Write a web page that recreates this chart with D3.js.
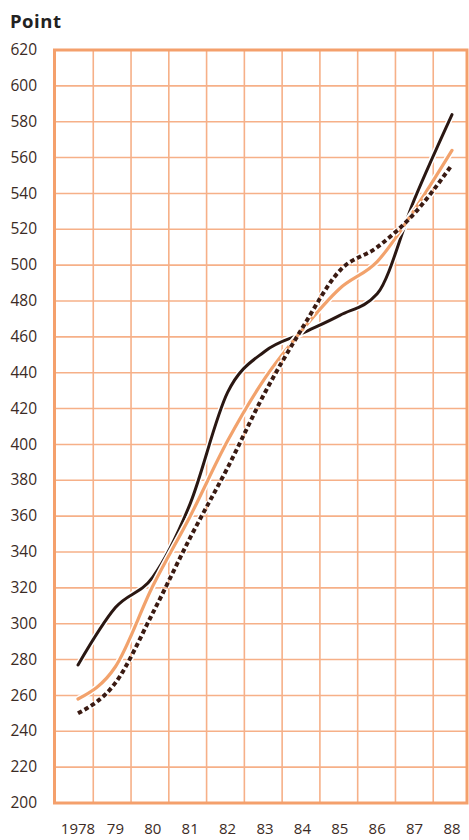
<!DOCTYPE html>
<html>
<head>
<meta charset="utf-8">
<script src="https://cdn.jsdelivr.net/npm/d3@7"></script>
<style>
  html, body { margin: 0; padding: 0; background: #ffffff; }
  svg { display: block; }
  text { font-family: "Open Sans", "DejaVu Sans", sans-serif; }
</style>
</head>
<body>
<div id="chart"></div>
<script>
// ---- data ----
const years = [1978, 1979, 1980, 1981, 1982, 1983, 1984, 1985, 1986, 1987, 1988];
const yearLabels = ["1978", "79", "80", "81", "82", "83", "84", "85", "86", "87", "88"];
const seriesDark = [277, 309, 326, 367, 429, 452, 462, 472, 484, 537, 584];
const seriesOrange = [258, 276, 321, 360, 402, 437, 464, 487, 502, 531, 564];
const seriesDashed = [250, 267, 306, 348, 387, 429, 465, 497, 510, 529, 556];
const yTicks = d3.range(200, 621, 20);
const gridColumns = d3.range(0, 12);

// ---- layout ----
const W = 469, H = 840;
const plot = { left: 54.5, right: 467, top: 50, bottom: 803 };

const svg = d3.select("#chart").append("svg")
  .attr("width", W).attr("height", H);

const x = d3.scaleLinear().domain([1978, 1988]).range([78, 452]);
const y = d3.scaleLinear().domain([200, 620]).range([plot.bottom, plot.top]);
const gx = d3.scaleLinear().domain([0, 11]).range([plot.left + 1, 471]);

const gridColor = "#f6b088";
const borderColor = "#f4a06c";

// grid
const grid = svg.append("g");
grid.selectAll("line.h").data(yTicks).enter().append("line")
  .attr("x1", plot.left).attr("x2", plot.right)
  .attr("y1", d => y(d)).attr("y2", d => y(d))
  .attr("stroke", gridColor).attr("stroke-width", 1.6);
grid.selectAll("line.v").data(gridColumns.slice(1, 11)).enter().append("line")
  .attr("x1", d => gx(d)).attr("x2", d => gx(d))
  .attr("y1", plot.top).attr("y2", plot.bottom)
  .attr("stroke", gridColor).attr("stroke-width", 1.6);

// border
svg.append("rect")
  .attr("x", plot.left).attr("y", plot.top)
  .attr("width", plot.right - plot.left).attr("height", plot.bottom - plot.top)
  .attr("fill", "none").attr("stroke", borderColor).attr("stroke-width", 3);

// y axis labels
svg.append("g").selectAll("text").data(yTicks).enter().append("text")
  .attr("x", 37).attr("y", d => y(d) + 1)
  .attr("text-anchor", "end").attr("dominant-baseline", "middle")
  .attr("font-size", 15.5).attr("fill", "#3b2b25")
  .text(d => d);

// x axis labels
svg.append("g").selectAll("text").data(years).enter().append("text")
  .attr("x", d => x(d)).attr("y", 834)
  .attr("text-anchor", "middle")
  .attr("font-size", 15).attr("fill", "#3b2b25")
  .text((d, i) => yearLabels[i]);

// title
svg.append("text").attr("x", 10).attr("y", 28)
  .attr("font-size", 18.5).attr("font-weight", 700).attr("letter-spacing", 0.5)
  .attr("fill", "#222").text("Point");

// lines
const line = d3.line().x((d, i) => x(years[i])).y(d => y(d)).curve(d3.curveMonotoneX);

const seriesDefs = [
  { values: seriesDark, color: "#2a1712", width: 3, dash: null },
  { values: seriesOrange, color: "#f2a26c", width: 3.2, dash: null },
  { values: seriesDashed, color: "#3a1a12", width: 4, dash: "4.5,3" }
];

const lines = svg.append("g");
seriesDefs.forEach(s => {
  lines.append("path").attr("d", line(s.values))
    .attr("fill", "none").attr("stroke", "#ffffff")
    .attr("stroke-width", s.width + 3).attr("stroke-linecap", "butt")
    .attr("stroke-dasharray", s.dash);
  lines.append("path").attr("d", line(s.values))
    .attr("fill", "none").attr("stroke", s.color)
    .attr("stroke-width", s.width).attr("stroke-linecap", s.dash ? "butt" : "round")
    .attr("stroke-linejoin", "round")
    .attr("stroke-dasharray", s.dash);
});
</script>
</body>
</html>
